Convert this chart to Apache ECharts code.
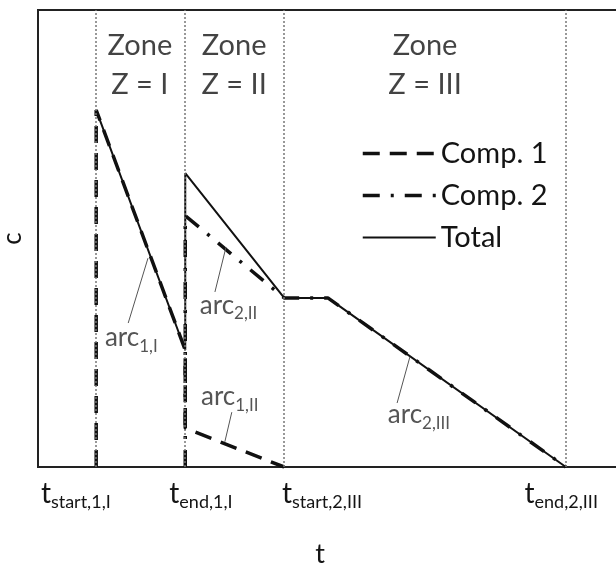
<!DOCTYPE html>
<html>
<head>
<meta charset="utf-8">
<script src="https://cdn.jsdelivr.net/npm/echarts@6/dist/echarts.min.js"></script>
<style>html,body{margin:0;padding:0;background:#fff}#c{width:616px;height:564px}</style>
</head>
<body>
<div id="c"></div>
<script>
// ---- data (t and c in arbitrary units) ----
const comp1 = [[10,0],[10,78.1],[25.3,25.6],[25.3,8.5],[42.3,0]];
const comp2 = [[25.3,0],[25.3,55.0],[42.3,37],[49.8,37],[90.7,0]];
const total = [[10,78.1],[25.3,25.6],[25.3,64.3],[42.3,37],[49.8,37],[90.7,0]];
const zoneBounds = [10, 25.3, 42.3, 90.7];
const zoneLabels = [[17.5,88.0,'I'],[33.7,88.0,'II'],[66.5,88.0,'III']];
const tickLabelPos = [6.5, 28.0, 48.8, 89.9];
const tickLabelSub = ['start,1,I','end,1,I','start,2,III','end,2,III'];
const arcLabels = [[11.5,28.3,'1,I'],[27.8,35.4,'2,II'],[28.0,15.3,'1,II'],[60.1,11.4,'2,III']];
const leaders = [
  [[15.5,31.5],[18.9,45.7]],
  [[30.4,38.3],[32.3,48.1]],
  [[33.3,12.0],[32.1,5.5]],
  [[61.7,14.0],[63.9,24.1]]
];

const FONT = 'Lato';
const TXT = '#141414';
const chart = echarts.init(document.getElementById('c'));
chart.setOption({
  animation: false,
  textStyle: {fontFamily: FONT, color: TXT},
  grid: {left: 38, top: 10, right: -4, bottom: 97, show: true, borderColor: '#222', borderWidth: 2,
         containLabel: false, outerBoundsMode: 'none'},
  legend: {
    data: ['Comp. 1','Comp. 2','Total'],
    orient: 'vertical', left: 356, top: 134,
    itemWidth: 73, itemHeight: 14, itemGap: 13,
    itemStyle: {opacity: 0},
    lineStyle: {width: 'inherit', type: 'inherit'},
    textStyle: {fontFamily: FONT, fontSize: 29, color: TXT}
  },
  xAxis: {
    type: 'value', min: 0, max: 100,
    splitLine: {show: false}, axisTick: {show: false},
    axisLine: {lineStyle: {color: '#222', width: 2}},
    name: 't', nameLocation: 'middle', nameGap: 74,
    nameTextStyle: {fontSize: 27, color: TXT, padding: [0, 18, 0, 0]},
    axisLabel: {
      customValues: tickLabelPos, margin: 10,
      formatter: function (v) {
        const i = tickLabelPos.indexOf(v);
        return i < 0 ? '' : '{t|t}{s|' + tickLabelSub[i] + '}';
      },
      rich: {
        t: {fontSize: 28, fontFamily: FONT, color: TXT, lineHeight: 34, verticalAlign: 'middle'},
        s: {fontSize: 18, fontFamily: FONT, color: TXT, lineHeight: 18, verticalAlign: 'bottom'}
      }
    }
  },
  yAxis: {
    type: 'value', min: 0, max: 100,
    splitLine: {show: false}, axisTick: {show: false}, axisLabel: {show: false},
    axisLine: {lineStyle: {color: '#222', width: 2}},
    name: 'c', nameLocation: 'middle', nameGap: 12, nameRotate: 90,
    nameTextStyle: {fontSize: 26, color: TXT}
  },
  series: [
    {
      name: 'zones', type: 'scatter', symbolSize: 0, silent: true,
      data: zoneLabels,
      label: {
        show: true, position: 'inside',
        formatter: p => 'Zone\nZ = ' + p.data[2],
        fontSize: 29, lineHeight: 39, color: TXT, fontFamily: FONT, align: 'center', verticalAlign: 'middle'
      },
      markLine: {
        silent: true, symbol: 'none', label: {show: false},
        lineStyle: {color: '#777', type: [2, 2], width: 1.5},
        data: zoneBounds.map(v => ({xAxis: v}))
      }
    },
    {
      name: 'Comp. 1', type: 'line', data: comp1, showSymbol: false, symbol: 'none',
      lineStyle: {color: '#111', width: 3.5, type: [17, 10]}, itemStyle: {color: '#111'}, z: 3
    },
    {
      name: 'Comp. 2', type: 'line', data: comp2, showSymbol: false, symbol: 'none',
      lineStyle: {color: '#111', width: 3.5, type: [17, 11, 3, 11]}, itemStyle: {color: '#111'}, z: 3
    },
    {
      name: 'Total', type: 'line', data: total, showSymbol: false, symbol: 'none',
      lineStyle: {color: '#111', width: 2, type: 'solid'}, itemStyle: {color: '#111'}, z: 4
    },
    {
      name: 'arcs', type: 'scatter', symbolSize: 0, silent: true,
      data: arcLabels,
      label: {
        show: true, position: 'right', distance: 0,
        formatter: p => '{a|arc}{s|' + p.data[2] + '}',
        rich: {
          a: {fontSize: 26, fontFamily: FONT, color: '#2a2a2a', lineHeight: 34, verticalAlign: 'middle'},
          s: {fontSize: 17, fontFamily: FONT, color: '#2a2a2a', lineHeight: 17, verticalAlign: 'bottom'}
        }
      },
      markLine: {
        silent: true, symbol: 'none', label: {show: false},
        lineStyle: {color: '#555', type: 'solid', width: 1},
        data: leaders.map(l => [{coord: l[0]}, {coord: l[1]}])
      }
    }
  ]
});
</script>
</body>
</html>
